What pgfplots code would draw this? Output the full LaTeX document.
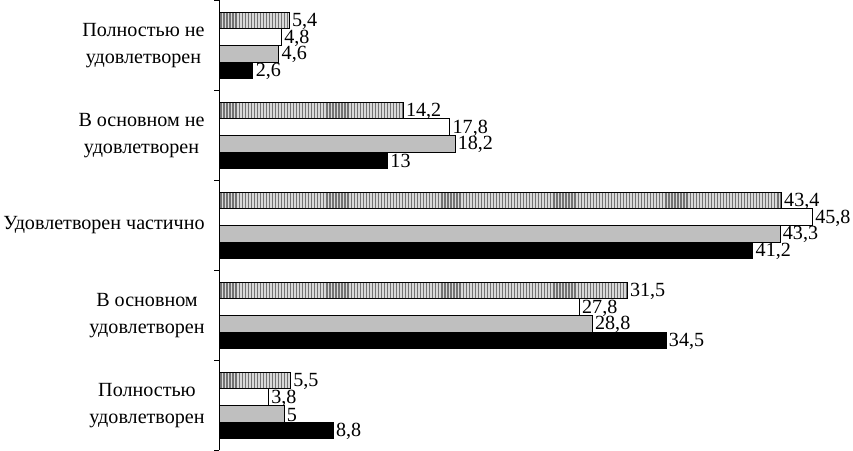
\documentclass[border=0pt]{standalone}
\usepackage{pgfplots}
\pgfplotsset{compat=1.18}
\usepackage{fontspec}
\setmainfont{Liberation Serif}
\usetikzlibrary{patterns.meta}
\begin{document}
\begin{tikzpicture}
\begin{axis}[
  scale only axis, width=629bp, height=446bp,
  xbar=0pt, bar width=16.6pt,
  xmin=0, xmax=49,
  ymin=-0.5, ymax=4.5,
  axis x line=none,
  axis y line*=left,
  axis line style={-, line width=0.8pt},
  ytick={0,1,2,3,4},
  yticklabels={{Полностью\\удовлетворен},{В основном\\удовлетворен},{Удовлетворен частично},{В основном не\\удовлетворен},{Полностью не\\удовлетворен}},
  yticklabel style={align=center, font=\fontsize{20}{27}\selectfont, xshift=-11pt},
  major tick length=0pt,
  minor ytick={-0.5,0.5,...,4.5},
  minor tick length=5pt,
  minor tick style={line width=0.8pt, black},
  tick align=outside,
  point meta=x,
  nodes near coords,
  nodes near coords style={font=\fontsize{20}{24}\selectfont, /pgf/number format/use comma, /pgf/number format/assume math mode=true, inner xsep=2.5pt, black, yshift=-1pt},
  every axis plot/.append style={draw=black, line width=0.8pt},
  clip=false,
]
\addplot[fill=black] coordinates {(2.6,4) (13,3) (41.2,2) (34.5,1) (8.8,0)};
\addplot[fill=black!25] coordinates {(4.6,4) (18.2,3) (43.3,2) (28.8,1) (5,0)};
\addplot[fill=white] coordinates {(4.8,4) (17.8,3) (45.8,2) (27.8,1) (3.8,0)};
\addplot[fill=black!15, postaction={pattern={Lines[angle=90,distance=3bp,line width=1.2bp]}, pattern color=black!55}] coordinates {(5.4,4) (14.2,3) (43.4,2) (31.5,1) (5.5,0)};
\end{axis}
\end{tikzpicture}
\end{document}
